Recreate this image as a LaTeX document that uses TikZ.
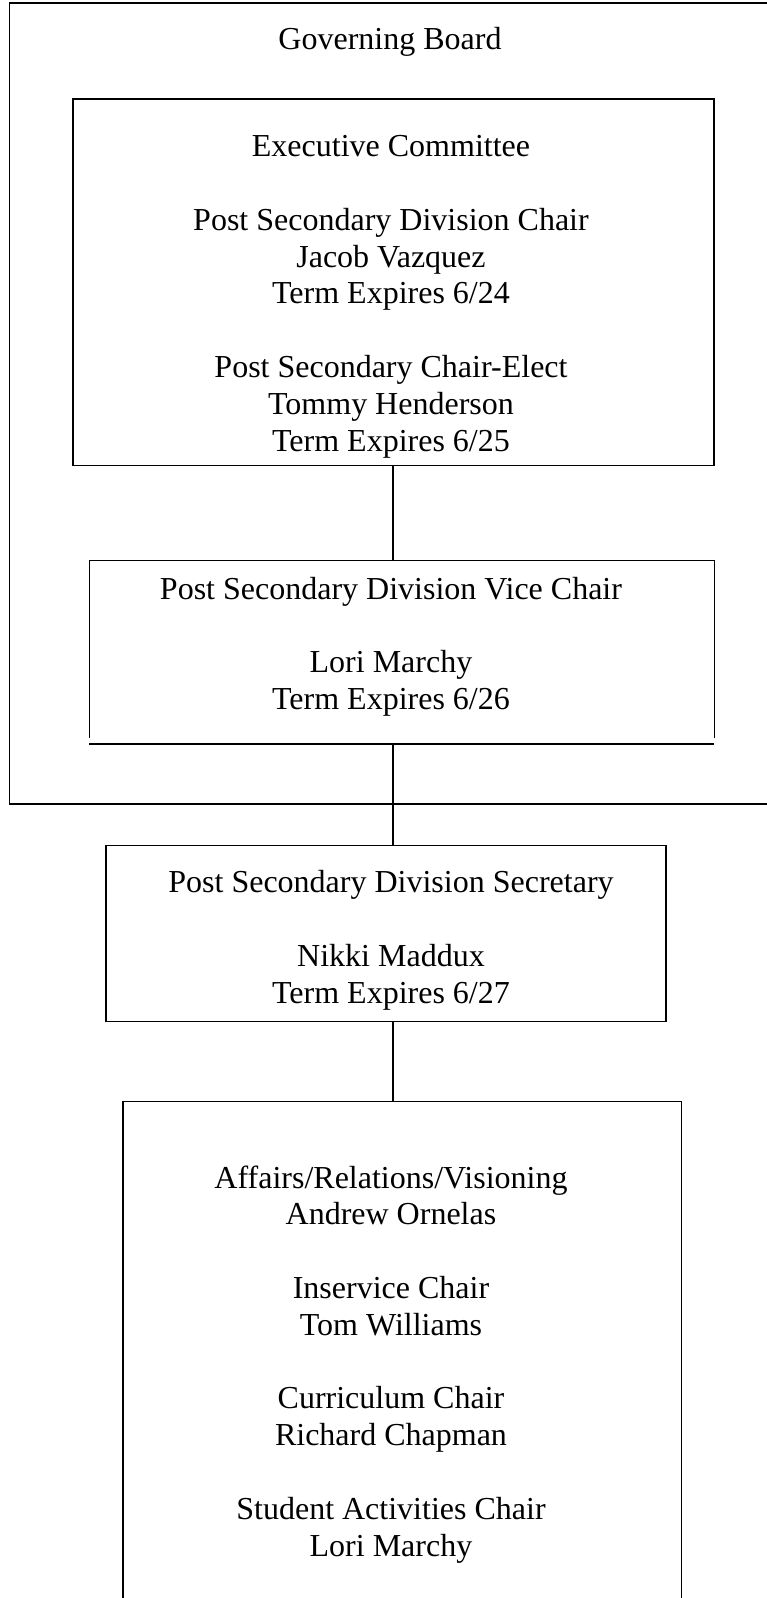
\documentclass[tikz,border=0pt]{standalone}
\usepackage{fontspec}
\setmainfont{Liberation Serif}
\begin{document}
\begin{tikzpicture}[x=1pt,y=-1pt,
  box/.style={draw, line width=1.3pt, inner sep=0pt},
  link/.style={line width=1.3pt},
  txt/.style={align=center, anchor=north, inner sep=0pt,
    font=\fontsize{32}{36.8}\selectfont, execute at begin node=\strut}]
\useasboundingbox (0,0) rectangle (766,1598);
\coordinate (spine) at (393,0);

% outer frame, runs off the right edge
\node[box, minimum width=780.7pt, minimum height=801pt] (board) at (399.65,403.5) {};
\node[txt] (boardname) at (390,23.2) {Governing Board};

% executive committee
\node[box, minimum width=641pt, minimum height=366.5pt] (exec) at (393.5,282.25) {};
\node[txt] (exectext) at (391,135.4) {Executive Committee\\[36.8pt]
  Post Secondary Division Chair\\Jacob Vazquez\\Term Expires 6/24\\[36.8pt]
  Post Secondary Chair-Elect\\Tommy Henderson\\Term Expires 6/25};

% vice chair (bottom rule drawn apart)
\node[inner sep=0pt, minimum width=624.4pt, minimum height=182.5pt] (vice) at (401.8,652.25) {};
\draw[link] ([yshift=6pt]vice.south west) |- (vice.north east) -- ([yshift=6pt]vice.south east);
\draw[line width=2pt] (vice.south west) -- (vice.south east);
\node[txt] (vicetext) at (391,576.8) {Post Secondary Division Vice Chair\\[36.8pt]
  Lori Marchy\\Term Expires 6/26};

% secretary
\node[box, minimum width=560pt, minimum height=176.1pt] (sec) at (386,933.55) {};
\node[txt] (sectext) at (391,870.4) {Post Secondary Division Secretary\\[36.8pt]
  Nikki Maddux\\Term Expires 6/27};

% standing chairs, open at the bottom
\node[box, minimum width=558.5pt, minimum height=519pt] (chairs) at (402.25,1361) {};
\node[txt] (chairtext) at (391,1165.4) {Affairs/Relations/Visioning\\Andrew Ornelas\\[36.8pt]
  Inservice Chair\\Tom Williams\\[36.8pt]
  Curriculum Chair\\Richard Chapman\\[36.8pt]
  Student Activities Chair\\Lori Marchy};

% connectors
\draw[link] (exec.south -| spine) -- (vice.north -| spine);
\draw[link] (vice.south -| spine) -- (sec.north -| spine);
\draw[link] (sec.south -| spine) -- (chairs.north -| spine);
\end{tikzpicture}
\end{document}
